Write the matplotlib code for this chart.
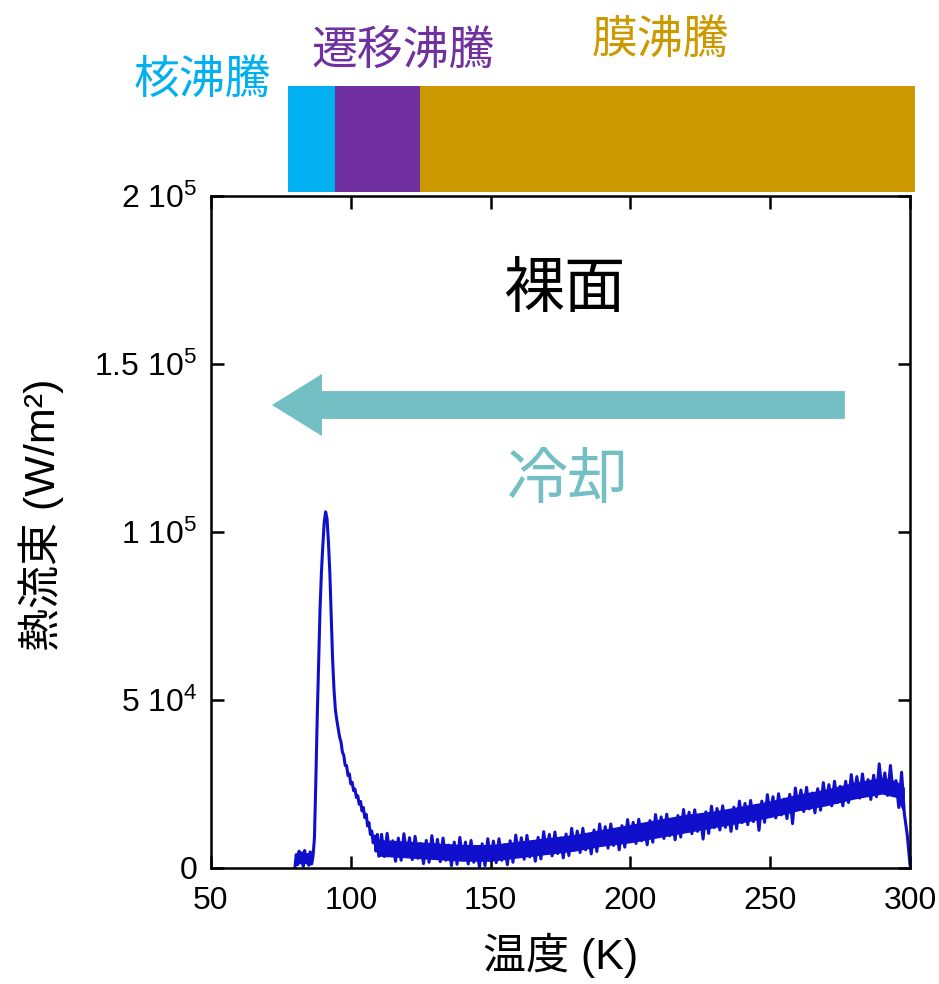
import numpy as np
import matplotlib
matplotlib.use("Agg")
import matplotlib.pyplot as plt

plt.rcParams['font.family'] = ['Liberation Sans', 'Noto Sans CJK JP', 'DejaVu Sans']
plt.rcParams['mathtext.fontset'] = 'custom'
plt.rcParams['mathtext.rm'] = 'Liberation Sans'
plt.rcParams['mathtext.it'] = 'Liberation Sans:italic'
plt.rcParams['mathtext.bf'] = 'Liberation Sans:bold'

# ---- data (heat flux in kW/m^2) ----
temp_peak = [80, 80.5, 81, 81.5, 82, 82.5, 83, 83.5, 84, 84.5, 85, 85.5, 86, 86.5,
             87, 87.5, 88, 88.5, 89, 89.5, 90, 90.5, 91, 91.5, 92, 92.5, 93, 93.5,
             94, 94.5, 95, 95.5, 96, 96.5, 97, 97.5, 98, 98.5, 99, 99.5, 100, 100.5,
             101, 101.5, 102, 102.5, 103, 103.5, 104, 104.5, 105, 105.5, 106, 106.5,
             107, 107.5, 108, 108.5, 109, 109.5, 110]
flux_peak_k = [0, 4.0, 1.0, 5.0, 1.5, 4.5, 0.5, 5.2, 1.5, 4.0, 0.8, 4.8, 1.2, 3.5,
               9, 26, 45, 61, 77, 88, 96, 103, 106, 104, 97, 88, 75, 62,
               53, 47, 44, 41.5, 39, 37.5, 34.5, 33.5, 30.5, 30.5, 27.5, 28, 25, 25.5,
               23, 23.5, 21, 21.5, 19, 19.8, 17, 18, 15, 16, 12.5, 13.5,
               10, 11, 7.5, 9.5, 5, 10, 3.5]

temp_tail = list(range(111, 301))
flux_tail_k = [
    10.0, 3.4, 10.3, 3.7, 8.1, 2.0, 8.9, 2.3, 10.2, 3.6,
    9.0, 2.5, 9.4, 2.9, 7.3, 1.3, 8.2, 1.7, 9.6, 3.0,
    8.5, 1.9, 8.9, 2.3, 6.8, 0.7, 7.7, 1.1, 9.1, 2.5,
    7.7, 1.2, 8.2, 1.7, 6.2, 0.3, 7.2, 0.7, 8.7, 2.2,
    8.0, 1.6, 8.7, 2.3, 6.9, 1.0, 8.1, 1.7, 9.8, 3.4,
    9.0, 2.6, 9.7, 3.3, 7.9, 2.0, 9.1, 2.7, 10.8, 4.4,
    10.0, 3.6, 10.7, 4.3, 8.9, 3.0, 10.1, 3.7, 11.8, 5.4,
    11.0, 4.6, 11.8, 5.4, 10.0, 4.2, 11.3, 4.9, 13.1, 6.7,
    12.3, 5.9, 13.1, 6.7, 11.3, 5.4, 12.6, 6.2, 14.4, 8.0,
    13.6, 7.3, 14.5, 8.1, 12.8, 6.9, 14.1, 7.7, 15.9, 9.5,
    15.2, 8.8, 16.0, 9.6, 14.3, 8.4, 15.6, 9.2, 17.4, 11.0,
    16.6, 10.2, 17.3, 10.9, 15.5, 8.6, 16.7, 10.3, 18.4, 12.0,
    17.7, 11.3, 18.5, 12.1, 16.8, 10.9, 18.1, 11.7, 19.9, 13.5,
    19.2, 12.9, 20.1, 13.8, 18.5, 11.2, 19.9, 13.6, 21.8, 15.5,
    21.2, 14.9, 22.1, 15.8, 20.5, 14.7, 21.9, 13.2, 23.8, 17.5,
    23.2, 16.8, 24.0, 17.6, 22.3, 16.4, 23.6, 17.2, 25.4, 19.0,
    24.8, 18.5, 25.8, 19.5, 24.3, 18.5, 25.8, 19.5, 27.8, 21.5,
    27.2, 20.8, 28.0, 21.6, 26.3, 20.4, 27.6, 21.2, 31.0, 23.0,
    28.3, 21.6, 30.5, 21.7, 26.0, 18.0, 28.5, 16.0, 10.0, 1.0,
]

# inner core of the noise band in the film-boiling region (kW/m^2)
band_temp = [110, 120, 130, 140, 150, 160, 170, 180, 190, 200, 210, 220, 230,
             240, 250, 260, 270, 280, 290, 295, 298]
band_low_k = [3.5, 3.0, 2.5, 2.0, 2.0, 3.0, 4.0, 5.0, 6.5, 7.5, 9.0, 10.5, 12.0,
              13.5, 15.0, 17.0, 18.5, 20.5, 22.0, 21.0, 16.0]
band_high_k = [8.5, 8.0, 7.5, 7.0, 7.0, 8.0, 9.0, 10.0, 11.5, 13.0, 14.5, 16.0, 17.0,
               18.5, 20.0, 22.0, 23.5, 25.5, 27.0, 26.0, 24.0]

temperature = temp_peak + temp_tail
heat_flux = np.array(flux_peak_k + flux_tail_k) * 1000.0

y_ticks = [0, 50000, 100000, 150000, 200000]
y_tick_labels = ["0", "5 10$^{4}$", "1 10$^{5}$", "1.5 10$^{5}$", "2 10$^{5}$"]
x_ticks = [50, 100, 150, 200, 250, 300]

phase_names = ["核沸騰", "遷移沸騰", "膜沸騰"]
phase_starts = [77.5, 94.3, 124.7]
phase_ends = [94.3, 124.7, 301.8]
phase_colors = ["#00B0F0", "#7030A0", "#CC9900"]
phase_label_x = [47.0, 118.7, 210.6]
phase_label_y = [1.171, 1.215, 1.231]

line_color = "#1010CC"

# ---- figure ----
fig = plt.figure(figsize=(9.39, 9.84), dpi=100)
ax = fig.add_axes([0.2247, 0.1179, 0.7444, 0.6829])

ax.fill_between(band_temp, np.array(band_low_k) * 1000, np.array(band_high_k) * 1000,
                color=line_color, linewidth=0)
ax.plot(temperature, heat_flux, color=line_color, linewidth=2.2)

ax.set_xlim(50, 300)
ax.set_ylim(0, 200000)
ax.set_xticks(x_ticks)
ax.set_xticklabels([str(t) for t in x_ticks])
ax.set_yticks(y_ticks)
ax.set_yticklabels(y_tick_labels)

for s in ax.spines.values():
    s.set_linewidth(1.8)
    s.set_color("black")
ax.tick_params(direction="in", length=9, width=1.8, top=True, right=True,
               labelsize=23)
ax.tick_params(axis="x", pad=13)
ax.tick_params(axis="y", pad=10)

ax.set_xlabel("温度 (K)", fontsize=31, labelpad=12)
ax.set_ylabel("熱流束 (W/m²)", fontsize=31, labelpad=22)
ax.yaxis.label.set_y(0.525)

# phase bar above the axes
for x0, x1, c in zip(phase_starts, phase_ends, phase_colors):
    ax.axvspan(x0, x1, ymin=1.006, ymax=1.164, color=c, clip_on=False, linewidth=0)
for name, lx, ly, c in zip(phase_names, phase_label_x, phase_label_y, phase_colors):
    ax.text(lx, ly, name, color=c, fontsize=33, ha="center", va="center",
            transform=ax.get_xaxis_transform(), clip_on=False)

# annotations
ax.text(0.506, 0.858, "裸面", color="black", fontsize=44, ha="center", va="center",
        transform=ax.transAxes)
ax.arrow(276.7, 137800, 71.8 - 276.7, 0, width=8300, head_width=18500,
         head_length=17.9, length_includes_head=True, color="#74BFC4", linewidth=0)
ax.text(0.511, 0.574, "冷却", color="#74BFC4", fontsize=44, ha="center", va="center",
        transform=ax.transAxes)

fig.savefig("out.png", dpi=100)
